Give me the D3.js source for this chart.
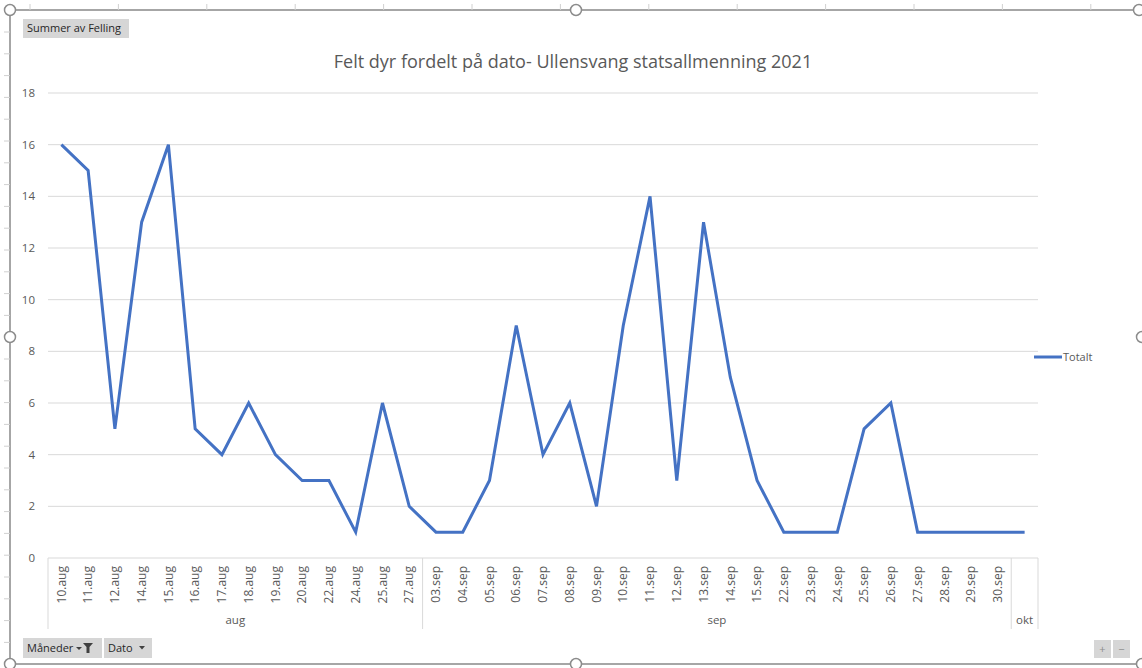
<!DOCTYPE html>
<html>
<head>
<meta charset="utf-8">
<script src="https://cdn.jsdelivr.net/npm/d3@7"></script>
<style>
  body { margin: 0; background: #fff; }
  svg { display: block; font-family: "Open Sans", sans-serif; }
</style>
</head>
<body>
<script>
// data
var months = ["aug", "sep", "okt"];
var dates = ["10.aug","11.aug","12.aug","14.aug","15.aug","16.aug","17.aug","18.aug","19.aug","20.aug","22.aug","24.aug","25.aug","27.aug",
  "03.sep","04.sep","05.sep","06.sep","07.sep","08.sep","09.sep","10.sep","11.sep","12.sep","13.sep","14.sep","15.sep",
  "22.sep","23.sep","24.sep","25.sep","26.sep","27.sep","28.sep","29.sep","30.sep",
  ""];
var dateMonth = [0,0,0,0,0,0,0,0,0,0,0,0,0,0,
  1,1,1,1,1,1,1,1,1,1,1,1,1,1,1,1,1,1,1,1,1,1,
  2];
var totalt = [16,15,5,13,16,5,4,6,4,3,3,1,6,2,
  1,1,3,9,4,6,2,9,14,3,13,7,3,1,1,1,5,6,1,1,1,1,
  1];
var yTicks = [0,2,4,6,8,10,12,14,16,18];

var width = 1142, height = 668;
var grey = "#595959", gridCol = "#d9d9d9";

var svg = d3.select("body").append("svg")
  .attr("width", width)
  .attr("height", height);

//scales
var x = d3.scaleBand().domain(d3.range(dates.length)).range([48, 1038]).padding(0);
var y = d3.scaleLinear().domain([0, 18]).range([558, 93]);
function cx(i) { return x(i) + x.bandwidth() / 2; }

//gridlines
svg.append("g").selectAll("line")
  .data(yTicks.filter(function(d) { return d > 0; }))
  .enter().append("line")
  .attr("x1", 48).attr("x2", 1038)
  .attr("y1", function(d) { return y(d); })
  .attr("y2", function(d) { return y(d); })
  .attr("stroke", gridCol).attr("stroke-width", 1);

//y labels
svg.append("g").selectAll("text")
  .data(yTicks)
  .enter().append("text")
  .attr("x", 35)
  .attr("y", function(d) { return y(d); })
  .attr("dy", "0.35em")
  .attr("text-anchor", "end")
  .attr("font-size", 11.5)
  .attr("fill", grey)
  .text(function(d) { return d; });

//category axis box
svg.append("line")
  .attr("x1", 48).attr("x2", 1038).attr("y1", y(0)).attr("y2", y(0))
  .attr("stroke", gridCol).attr("stroke-width", 1);

// group boundaries
var bounds = [0];
months.forEach(function(m, mi) {
  var last = dateMonth.lastIndexOf(mi);
  bounds.push(last + 1);
});
svg.append("g").selectAll("line")
  .data(bounds)
  .enter().append("line")
  .attr("x1", function(d) { return d < dates.length ? x(d) : x.range()[1]; })
  .attr("x2", function(d) { return d < dates.length ? x(d) : x.range()[1]; })
  .attr("y1", y(0)).attr("y2", 629)
  .attr("stroke", gridCol).attr("stroke-width", 1);

//date labels
svg.append("g").selectAll("text")
  .data(dates)
  .enter().append("text")
  .attr("transform", function(d, i) { return "translate(" + cx(i) + ",566) rotate(-90)"; })
  .attr("dy", "0.35em")
  .attr("text-anchor", "end")
  .attr("font-size", 12)
  .attr("fill", grey)
  .text(function(d) { return d; });

//month labels
svg.append("g").selectAll("text")
  .data(months)
  .enter().append("text")
  .attr("x", function(m, mi) {
    var a = bounds[mi], b = bounds[mi + 1];
    var xa = x(a), xb = b < dates.length ? x(b) : x.range()[1];
    return (xa + xb) / 2;
  })
  .attr("y", 624)
  .attr("text-anchor", "middle")
  .attr("font-size", 11.5)
  .attr("fill", grey)
  .text(function(d) { return d; });

//series line
var line = d3.line()
  .x(function(d, i) { return cx(i); })
  .y(function(d) { return y(d); });

svg.append("path")
  .datum(totalt)
  .attr("d", line)
  .attr("fill", "none")
  .attr("stroke", "#4472C4")
  .attr("stroke-width", 3)
  .attr("stroke-linejoin", "miter");

//title
var title = svg.append("text")
  .attr("x", 573)
  .attr("y", 68)
  .attr("text-anchor", "middle")
  .attr("font-size", 17)
  .attr("fill", grey)
  .text("Felt dyr fordelt på dato- Ullensvang statsallmenning 2021");
var tw = title.node().getComputedTextLength();
title.attr("font-size", 17 * 479 / tw);

//legend
svg.append("line")
  .attr("x1", 1034).attr("x2", 1062).attr("y1", 357).attr("y2", 357)
  .attr("stroke", "#4472C4").attr("stroke-width", 3);
svg.append("text")
  .attr("x", 1063).attr("y", 357).attr("dy", "0.35em")
  .attr("font-size", 11).attr("fill", grey)
  .text("Totalt");

//field buttons
function button(x0, y0, w, h, label) {
  var g = svg.append("g");
  g.append("rect").attr("x", x0).attr("y", y0).attr("width", w).attr("height", h)
    .attr("fill", "#d6d6d6");
  g.append("text").attr("x", x0 + 4).attr("y", y0 + h / 2).attr("dy", "0.35em")
    .attr("font-size", 11).attr("fill", "#262626").text(label);
  return g;
}
button(23, 19, 106, 19, "Summer  av Felling");
var b1 = button(23, 638, 79, 20, "Måneder");
b1.append("path").attr("d", "M76,647 h6 l-3,3 z").attr("fill", "#404040");
b1.append("path").attr("d", "M83,643 h10 l-3.5,4 v6 h-3 v-6 z").attr("fill", "#404040");
var b2 = button(104, 638, 48, 20, "Dato");
b2.append("path").attr("d", "M139,646 h6 l-3,3.5 z").attr("fill", "#404040");

svg.append("rect").attr("x", 1094).attr("y", 640).attr("width", 17).attr("height", 18).attr("fill", "#d6d6d6");
svg.append("rect").attr("x", 1113).attr("y", 640).attr("width", 17).attr("height", 18).attr("fill", "#d6d6d6");
svg.append("text").attr("x", 1102.5).attr("y", 649).attr("dy", "0.35em").attr("text-anchor", "middle")
  .attr("font-size", 11).attr("fill", "#8c8c8c").text("+");
svg.append("text").attr("x", 1121.5).attr("y", 649).attr("dy", "0.35em").attr("text-anchor", "middle")
  .attr("font-size", 11).attr("fill", "#8c8c8c").text("−");

//selection frame with handles
var frame = svg.append("g");
var fx0 = 10, fx1 = 1141, fy0 = 10, fy1 = 664;
frame.append("path")
  .attr("d", "M" + fx1 + "," + fy0 + "H" + fx0 + "V" + fy1 + "H" + fx1)
  .attr("fill", "none").attr("stroke", "#a6a6a6").attr("stroke-width", 2);
frame.selectAll(".tt")
  .data(d3.range(30, 1130, 88.4))
  .enter().append("line")
  .attr("x1", function(d) { return d; }).attr("x2", function(d) { return d; })
  .attr("y1", 4).attr("y2", 10)
  .attr("stroke", "#d0d0d0");
frame.selectAll(".lt")
  .data(d3.range(32, 660, 21.8))
  .enter().append("line")
  .attr("y1", function(d) { return d; }).attr("y2", function(d) { return d; })
  .attr("x1", 4).attr("x2", 10)
  .attr("stroke", "#d0d0d0");
var handles = [[fx0, fy0], [576, fy0], [fx1 - 2, fy0], [fx0, 337], [fx1 + 1, 337], [fx0, fy1], [576, fy1], [fx1 + 1, fy1]];
frame.selectAll("circle")
  .data(handles)
  .enter().append("circle")
  .attr("cx", function(d) { return d[0]; })
  .attr("cy", function(d) { return d[1]; })
  .attr("r", 5.5)
  .attr("fill", "#fff").attr("stroke", "#8c8c8c").attr("stroke-width", 1.5);
</script>
</body>
</html>
